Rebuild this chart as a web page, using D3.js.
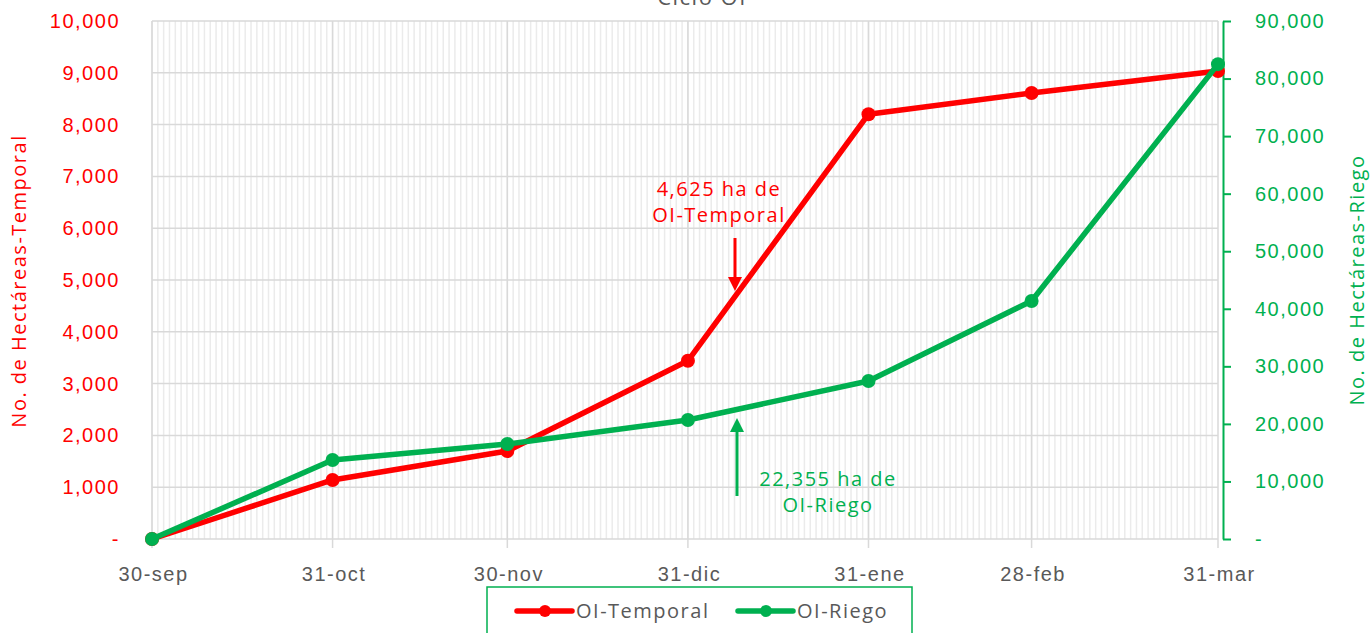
<!DOCTYPE html>
<html>
<head>
<meta charset="utf-8">
<script src="https://cdn.jsdelivr.net/npm/d3@7"></script>
<style>
  body { margin: 0; background: #fff; }
  svg { font-family: "Open Sans", sans-serif; letter-spacing: 1.5px; }
</style>
</head>
<body>
<svg id="vis"></svg>
<script>
// Datos del gráfico
const fechas = ["2023-09-30", "2023-10-31", "2023-11-30", "2023-12-31", "2024-01-31", "2024-02-28", "2024-03-31"];
const etiquetasX = ["30-sep", "31-oct", "30-nov", "31-dic", "31-ene", "28-feb", "31-mar"];
const temporal = [0, 1140, 1700, 3440, 8200, 8610, 9035];
const riego = [0, 13720, 16500, 20670, 27450, 41350, 82500];
const ticksIzq = [0, 1000, 2000, 3000, 4000, 5000, 6000, 7000, 8000, 9000, 10000];
const ticksDer = [0, 10000, 20000, 30000, 40000, 50000, 60000, 70000, 80000, 90000];

const WIDTH = 1370;
const HEIGHT = 633;
const MARGIN = { top: 21, bottom: 94, left: 152, right: 152 };
const ROJO = "#ff0000";
const VERDE = "#00b050";
const GRIS = "#595959";
const FS = 20;

const parse = d3.timeParse("%Y-%m-%d");
const dias = fechas.map(parse);

const svg = d3.select("#vis")
    .attr("width", WIDTH)
    .attr("height", HEIGHT);

const escalaX = d3.scaleTime()
    .domain([dias[0], dias[dias.length - 1]])
    .range([MARGIN.left, WIDTH - MARGIN.right]);

const escalaY = d3.scaleLinear()
    .domain([0, 10000])
    .range([HEIGHT - MARGIN.bottom, MARGIN.top]);

const escalaY2 = d3.scaleLinear()
    .domain([0, 90000])
    .range([HEIGHT - MARGIN.bottom, MARGIN.top]);

const fmt = d => d === 0 ? "-" : d3.format(",")(d);

// Rejilla menor (diaria)
const grid = svg.append("g");
grid.selectAll(".menor")
    .data(d3.timeDay.range(dias[0], dias[dias.length - 1]))
    .join("line")
    .attr("x1", d => escalaX(d)).attr("x2", d => escalaX(d))
    .attr("y1", escalaY(0)).attr("y2", escalaY(10000))
    .attr("stroke", "#ebebeb")
    .attr("stroke-width", 1.5);

// Rejilla horizontal
grid.selectAll(".hor")
    .data(ticksIzq)
    .join("line")
    .attr("x1", escalaX(dias[0])).attr("x2", escalaX(dias[dias.length - 1]))
    .attr("y1", d => escalaY(d)).attr("y2", d => escalaY(d))
    .attr("stroke", "#d9d9d9")
    .attr("stroke-width", 1.5);

// Rejilla mayor (meses)
grid.selectAll(".mayor")
    .data(dias)
    .join("line")
    .attr("x1", d => escalaX(d)).attr("x2", d => escalaX(d))
    .attr("y1", escalaY(10000)).attr("y2", escalaY(0) + 9)
    .attr("stroke", "#d9d9d9")
    .attr("stroke-width", 1.5);

// Eje X
const ejeX = svg.append("g")
    .attr("transform", `translate(1, ${escalaY(0)})`)
    .call(d3.axisBottom(escalaX).tickValues(dias).tickSize(0).tickPadding(28)
        .tickFormat((d, i) => etiquetasX[i]));
ejeX.select(".domain").remove();
ejeX.selectAll("text").attr("fill", GRIS).attr("font-size", FS);

// Eje Y izquierdo
const ejeY = svg.append("g")
    .attr("transform", `translate(${MARGIN.left - 32}, 0)`)
    .call(d3.axisLeft(escalaY).tickValues(ticksIzq).tickSize(0).tickPadding(0).tickFormat(fmt));
ejeY.select(".domain").remove();
ejeY.selectAll("text").attr("fill", ROJO).attr("font-size", FS);

// Eje Y derecho
const ejeY2 = svg.append("g")
    .attr("transform", `translate(${WIDTH - MARGIN.right + 5}, 0)`)
    .call(d3.axisRight(escalaY2).tickValues(ticksDer).tickSize(8).tickPadding(24).tickSizeOuter(0).tickFormat(fmt));
ejeY2.select(".domain").attr("stroke", VERDE).attr("stroke-width", 2);
ejeY2.selectAll(".tick line").attr("stroke", VERDE).attr("stroke-width", 2);
ejeY2.selectAll("text").attr("fill", VERDE).attr("font-size", FS);

// Títulos de ejes
svg.append("text")
    .attr("transform", `translate(26, ${(escalaY(0) + escalaY(10000)) / 2 + 1}) rotate(-90)`)
    .attr("text-anchor", "middle")
    .attr("fill", ROJO)
    .attr("font-size", FS)
    .text("No. de Hectáreas-Temporal");

svg.append("text")
    .attr("transform", `translate(1364, ${(escalaY(0) + escalaY(10000)) / 2}) rotate(-90)`)
    .attr("text-anchor", "middle")
    .attr("fill", VERDE)
    .attr("font-size", FS)
    .text("No. de Hectáreas-Riego");

// Título
svg.append("text")
    .attr("x", 702).attr("y", 5)
    .attr("text-anchor", "middle")
    .attr("fill", GRIS)
    .attr("font-size", 22)
    .text("Ciclo OI");

// Series
const series = [
    { valores: temporal, escala: escalaY, color: ROJO },
    { valores: riego, escala: escalaY2, color: VERDE }
];

series.forEach(s => {
    const linea = d3.line()
        .x((d, i) => escalaX(dias[i]))
        .y(d => s.escala(d));
    svg.append("path")
        .datum(s.valores)
        .attr("d", linea)
        .attr("fill", "none")
        .attr("stroke", s.color)
        .attr("stroke-width", 5.5)
        .attr("stroke-linejoin", "round");
    svg.append("g").selectAll("circle")
        .data(s.valores)
        .join("circle")
        .attr("cx", (d, i) => escalaX(dias[i]))
        .attr("cy", d => s.escala(d))
        .attr("r", 7)
        .attr("fill", s.color);
});

// Anotaciones
const flecha = (x, y1, y2, color) => {
    const dir = y2 > y1 ? 1 : -1;
    svg.append("line")
        .attr("x1", x).attr("x2", x)
        .attr("y1", y1).attr("y2", y2 - dir * 12)
        .attr("stroke", color).attr("stroke-width", 3);
    svg.append("path")
        .attr("d", `M${x - 7},${y2 - dir * 14} L${x + 7},${y2 - dir * 14} L${x},${y2} Z`)
        .attr("fill", color);
};

svg.append("text")
    .attr("x", 719).attr("y", 196)
    .attr("text-anchor", "middle").attr("fill", ROJO).attr("font-size", FS)
    .selectAll("tspan")
    .data(["4,625 ha de", "OI-Temporal"])
    .join("tspan")
    .attr("x", 719)
    .attr("dy", (d, i) => i === 0 ? 0 : 26)
    .text(d => d);
flecha(735, 238, 291, ROJO);

svg.append("text")
    .attr("x", 828).attr("y", 486)
    .attr("text-anchor", "middle").attr("fill", VERDE).attr("font-size", FS)
    .selectAll("tspan")
    .data(["22,355 ha de", "OI-Riego"])
    .join("tspan")
    .attr("x", 828)
    .attr("dy", (d, i) => i === 0 ? 0 : 26)
    .text(d => d);
flecha(737, 496, 418, VERDE);

// Leyenda
const leyenda = svg.append("g");
leyenda.append("rect")
    .attr("x", 487).attr("y", 587)
    .attr("width", 425).attr("height", 60)
    .attr("fill", "#fff")
    .attr("stroke", VERDE)
    .attr("stroke-width", 1.5);

const items = [
    { nombre: "OI-Temporal", color: ROJO, x: 517 },
    { nombre: "OI-Riego", color: VERDE, x: 738 }
];
items.forEach(it => {
    leyenda.append("line")
        .attr("x1", it.x).attr("x2", it.x + 55)
        .attr("y1", 611).attr("y2", 611)
        .attr("stroke", it.color).attr("stroke-width", 5.5)
        .attr("stroke-linecap", "round");
    leyenda.append("circle")
        .attr("cx", it.x + 28).attr("cy", 611).attr("r", 6)
        .attr("fill", it.color);
    leyenda.append("text")
        .attr("x", it.x + 59).attr("y", 618)
        .attr("fill", GRIS).attr("font-size", FS)
        .text(it.nombre);
});
</script>
</body>
</html>
